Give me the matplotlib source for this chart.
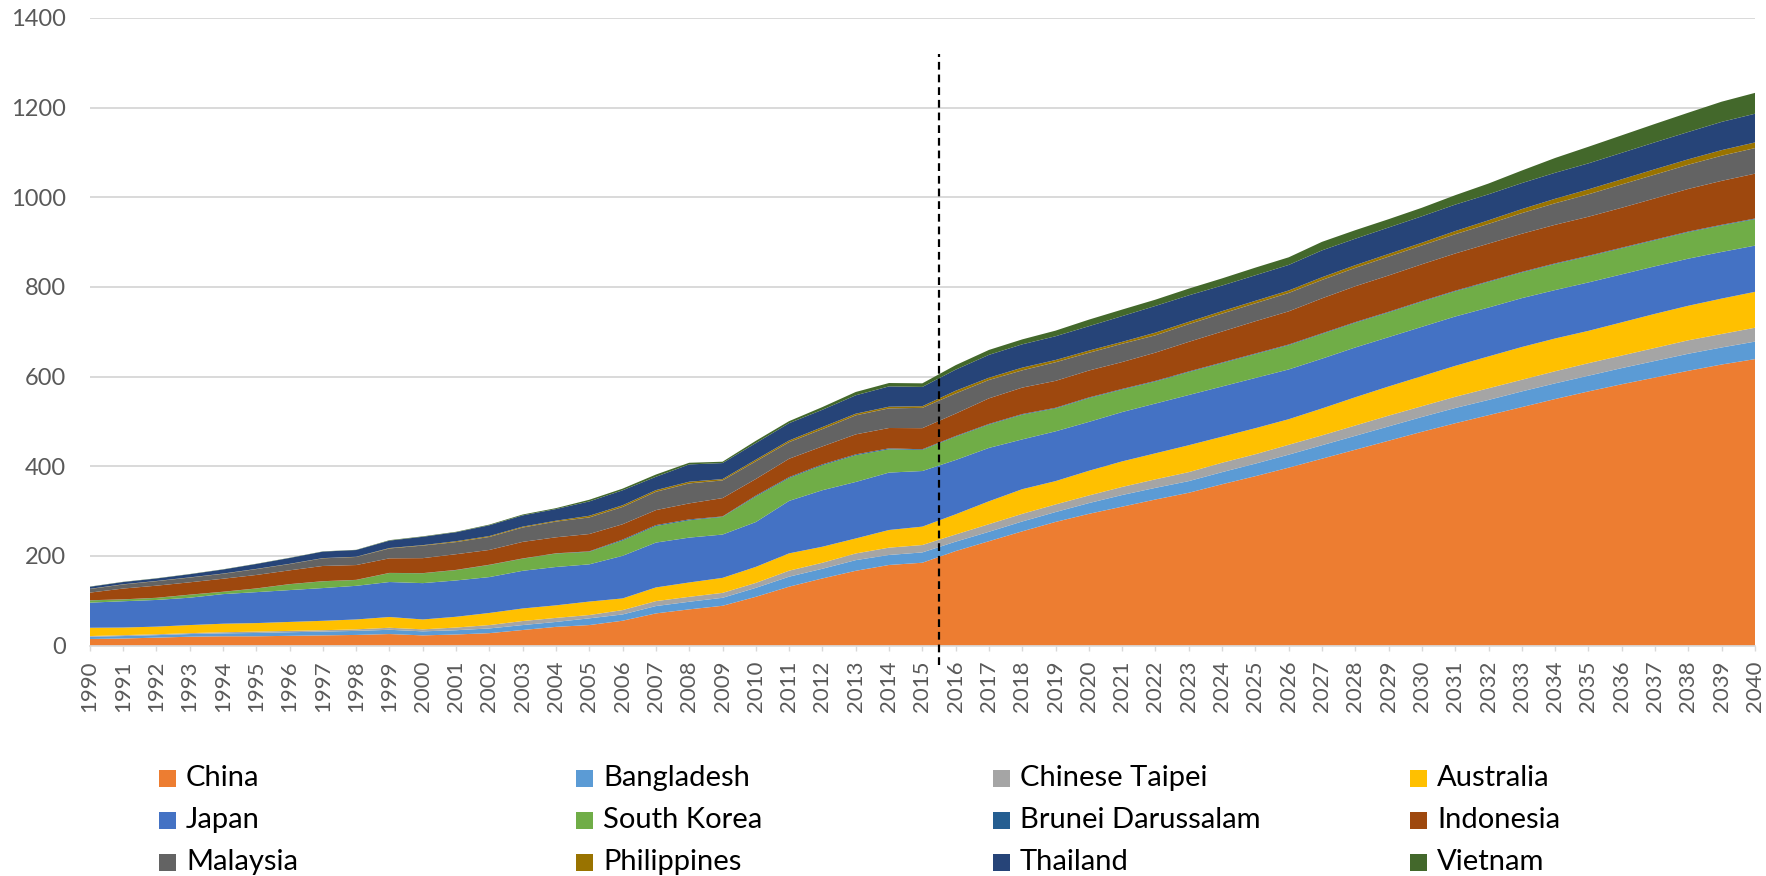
import matplotlib
matplotlib.use("Agg")
import matplotlib.pyplot as plt
from matplotlib.patches import Rectangle
import numpy as np

years = list(range(1990, 2041))

china = [15, 16, 18, 20, 21, 21, 22, 23, 24, 26, 23, 25, 28, 35, 42, 46, 55.7, 72, 81, 89,
         109, 131.6, 150, 167, 180, 185, 211, 233, 255, 276, 294, 310, 326, 341, 360, 378, 397,
         417, 437, 457, 477, 496, 514, 532, 550, 567, 583, 598, 613, 627, 639]
bangladesh = [5, 5.5, 5.5, 6, 6.5, 7.4, 8, 8.5, 9, 9.5, 9, 9.5, 10.5, 11, 11, 15, 14, 16.4, 17, 17.8,
              20, 22.3, 21.6, 23.8, 22.3, 23, 21, 21, 22, 22, 24, 26, 26, 26, 27, 28, 29,
              30, 31, 32, 33, 34, 34, 35, 35, 35, 36, 37, 38, 38, 39]
taipei = [1.5, 2, 2, 2, 2.5, 3, 3, 3, 3.5, 4.5, 4.5, 6, 7.5, 9, 9, 7.4, 9.7, 11, 11, 11,
          11, 13.4, 13.4, 14.9, 16.3, 16.5, 16, 17, 17, 17, 17, 18, 19, 20, 21, 21, 22,
          22, 23, 24, 24, 25, 26, 26, 27, 28, 28, 29, 30, 30, 31]
australia = [18.5, 17, 17, 18, 19, 19, 20, 21, 22, 24, 22, 24, 27, 28, 28, 30, 26, 30.5, 32, 33.4,
             35.7, 38.6, 35.7, 33.4, 39.4, 41, 45, 51, 55, 52, 55, 57, 58, 60, 58, 58, 57,
             60, 63, 65, 67, 69, 71, 73, 73, 72, 74, 76, 77, 79, 80]
japan = [56, 58.6, 59.5, 61, 66, 69, 71, 73, 75, 78, 81, 81, 80, 84, 85.5, 83, 95, 100, 100, 96.6,
         100, 117, 126, 126, 128, 124, 121, 119, 111, 111, 109, 110, 111, 112, 112, 112, 111,
         111, 111, 110, 110, 110, 109, 109, 108, 108, 107, 106, 105, 104, 103]
south_korea = [5, 4, 4.5, 6.5, 5, 8, 13, 15, 13, 20, 22, 23, 27, 27, 30, 28, 34.2, 37, 38.6, 39.4,
               57, 51, 55.7, 59.5, 52, 47, 52, 52, 55, 51, 53, 50, 49, 51, 52, 53, 54,
               55, 55, 55, 56, 56, 57, 57, 58, 58, 58, 58, 59, 59, 59]
brunei = [0.3, 0.3, 0.3, 0.3, 0.3, 0.3, 0.3, 0.3, 0.3, 0.3, 0.3, 0.5, 0.5, 0.5, 0.5, 1, 2, 2, 2, 1,
          2, 2, 2, 2, 2, 1.5, 1.5, 1.5, 1.5, 1.5, 1.5, 1.5, 1.5, 1.5, 1.5, 1.5, 1.5,
          1.5, 1.5, 1.5, 1.5, 1.5, 1.5, 1.5, 1.5, 1.5, 1.5, 1.5, 1.5, 1.5, 1.5]
indonesia = [17, 24, 27, 27.5, 29, 30, 30.7, 34, 33, 32.5, 33.4, 35, 33, 37, 35.7, 38.6, 34.2, 33.4, 35.7, 40.9,
             37, 41, 40, 44.6, 45.4, 47, 50, 57, 59, 60, 60, 60, 63, 66, 69, 72, 74,
             78, 80, 81, 82, 83, 84, 85, 86, 87, 89, 92, 95, 98, 100]
malaysia = [8, 9, 10, 10.5, 11, 13, 14, 17, 18, 22, 28, 27, 29, 32, 35, 37, 38.6, 40.9, 44.6, 39.4,
            39.4, 37, 38.6, 42.4, 43.8, 45.3, 45, 41, 38.5, 41.5, 39.5, 40.7, 38.6, 39.5, 40, 40, 41,
            41, 41, 42, 42, 43, 44, 46, 48, 50, 52, 53, 54, 56, 57]
philippines = [0.5, 0.5, 0.5, 0.5, 0.5, 0.5, 0.5, 0.5, 0.5, 1, 1, 2, 2, 2, 2, 3.7, 3.7, 3.7, 3.7, 3,
               3.7, 3.7, 4.5, 3.7, 3.7, 3.7, 6, 5, 6, 5, 5, 4.3, 6, 5.2, 5.5, 5.5, 5.5,
               6, 6, 6, 6, 7, 8, 9, 10, 11, 11.5, 12, 12, 12.5, 12.6]
thailand = [4.5, 5, 5.5, 7, 9, 11, 13, 14.5, 15, 16.5, 18.6, 20, 24, 25, 26, 32, 33.4, 29.7, 38.6, 35.7,
            37, 38.6, 38.6, 41, 45.3, 43, 47, 51, 52, 53, 54.4, 57.4, 59.5, 59, 57, 57, 57,
            60, 59, 59, 59, 59, 58, 58, 58, 58, 59, 60, 61, 63, 64]
vietnam = [0.5, 0.5, 0.5, 0.5, 0.5, 0.5, 0.5, 0.5, 0.5, 1, 1, 1, 1.5, 2, 2, 3.7, 3.7, 5, 3.7, 3,
           5, 4.5, 6, 7.4, 7.5, 8, 10, 11, 11, 12.5, 14.6, 14.6, 14, 15, 16, 17, 17,
           19, 19, 18.5, 19, 21, 24, 28, 33, 37, 39, 41, 43, 45, 46.5]

names = ["China", "Bangladesh", "Chinese Taipei", "Australia",
         "Japan", "South Korea", "Brunei Darussalam", "Indonesia",
         "Malaysia", "Philippines", "Thailand", "Vietnam"]
series = [china, bangladesh, taipei, australia, japan, south_korea,
          brunei, indonesia, malaysia, philippines, thailand, vietnam]
colors = ["#ED7D31", "#5B9BD5", "#A5A5A5", "#FFC000", "#4472C4", "#70AD47",
          "#255E91", "#9E480E", "#636363", "#997300", "#264478", "#43682B"]

yticks = [0, 200, 400, 600, 800, 1000, 1200, 1400]
divider_year = 2015.5

W, H = 1766, 876
plt.rcParams['font.family'] = ['Lato', 'DejaVu Sans']
fig = plt.figure(figsize=(W / 100, H / 100), dpi=100)
ax = fig.add_axes([89.7 / W, 1 - 645.7 / H, (1755 - 89.7) / W, (645.7 - 17.8) / H])

ax.stackplot(years, *series, colors=colors, linewidth=0, zorder=2)

ax.set_xlim(years[0], years[-1])
ax.set_ylim(0, 1400)
ax.set_yticks(yticks)
ax.set_yticklabels([str(v) for v in yticks])
ax.set_xticks(years)
ax.set_xticklabels([str(y) for y in years], rotation=90)
ax.grid(axis='y', color='#d9d9d9', linewidth=1.4, zorder=0)
ax.set_axisbelow(True)
for s in ['top', 'right', 'left']:
    ax.spines[s].set_visible(False)
ax.spines['bottom'].set_color('#d9d9d9')
ax.spines['bottom'].set_linewidth(1.2)
ax.spines['bottom'].set_zorder(3)
ax.tick_params(axis='y', length=0, pad=17, labelsize=17, labelcolor='#595959')
ax.tick_params(axis='x', length=3.6, width=1, color='#d9d9d9', pad=7,
               labelsize=16, labelcolor='#595959')

ax.plot([divider_year, divider_year], [-43, 1319], color='black', lw=1.6,
        linestyle=(0, (3.5, 2.2)), clip_on=False, zorder=5)

# legend laid out as in the reference (4 columns x 3 rows)
col_x = [159, 576, 993, 1410]
row_y = [778, 820, 862]
for i, (name, c) in enumerate(zip(names, colors)):
    r, k = divmod(i, 4)
    x0, yc = col_x[k], row_y[r]
    fig.patches.append(Rectangle((x0 / W, (H - yc - 8.5) / H), 17 / W, 17 / H,
                                 transform=fig.transFigure, facecolor=c, edgecolor='none'))
    fig.text((x0 + 27) / W, (H - yc) / H, name, va='center', ha='left',
             fontsize=21, color='black')

fig.savefig("out.png", dpi=100)
